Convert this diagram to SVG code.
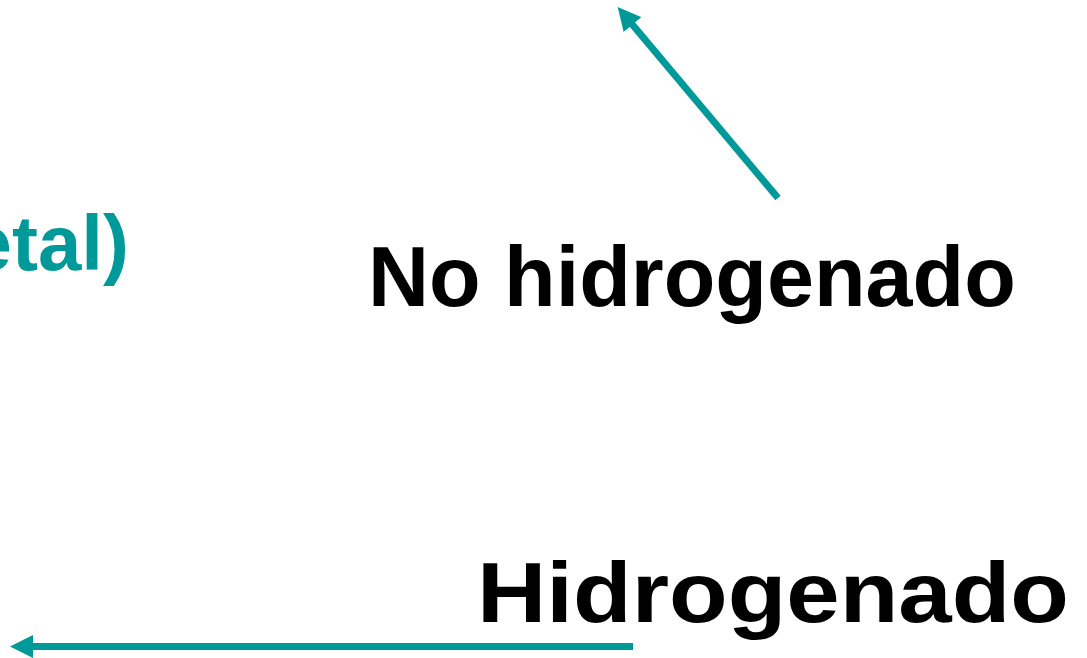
<svg xmlns="http://www.w3.org/2000/svg" width="1087" height="658" viewBox="0 0 1087 658">
<style>
.lbl{font-family:"Liberation Sans",Arial,sans-serif;font-weight:bold;font-size:84.5px;fill:#000}
.teal{font-family:"Liberation Sans",Arial,sans-serif;font-weight:bold;font-size:78px;fill:#009999}
.conn{stroke:#009999;stroke-width:7;fill:none;marker-end:url(#ah)}
</style>
<defs>
<marker id="ah" viewBox="0 0 23 23" refX="11" refY="11.5" markerWidth="23" markerHeight="23" markerUnits="userSpaceOnUse" orient="auto">
<path d="M0,0 L23,11.5 L0,23 z" fill="#009999"/>
</marker>
</defs>
<rect width="1087" height="658" fill="#fff"/>
<g id="connectors">
<line class="conn" x1="778" y1="198" x2="625.4" y2="16.2"/>
<line class="conn" x1="633" y1="646.5" x2="22" y2="646.5"/>
</g>
<g id="metal"><text class="teal" x="129" y="270" text-anchor="end">etal)</text></g>
<g id="nohidrogenado"><text class="lbl" x="368" y="306">No hidrogenado</text></g>
<g id="hidrogenado"><text class="lbl" x="477" y="622" textLength="592" lengthAdjust="spacingAndGlyphs">Hidrogenado</text></g>
</svg>
